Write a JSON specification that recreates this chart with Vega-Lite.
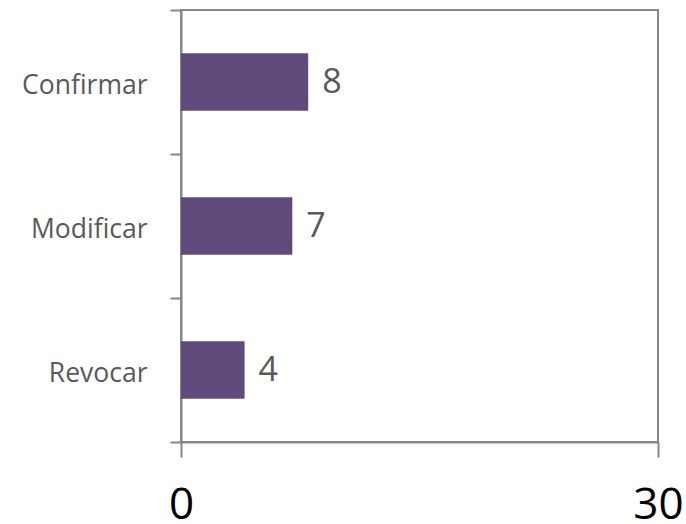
{
  "$schema": "https://vega.github.io/schema/vega-lite/v6.json",
  "width": 477,
  "height": 432,
  "autosize": "none",
  "padding": {"left": 181, "top": 10, "right": 28, "bottom": 82},
  "background": "white",
  "config": {
    "view": {"stroke": "#868686", "strokeWidth": 2},
    "font": "Open Sans"
  },
  "data": {
    "values": [
      {"decision": "Confirmar", "count": 8},
      {"decision": "Modificar", "count": 7},
      {"decision": "Revocar", "count": 4}
    ]
  },
  "encoding": {
    "y": {
      "field": "decision",
      "type": "nominal",
      "sort": null,
      "scale": {"paddingInner": 0, "paddingOuter": 0},
      "axis": {
        "title": null,
        "domainColor": "#868686",
        "domainWidth": 2,
        "tickColor": "#868686",
        "tickWidth": 2,
        "tickSize": 11,
        "tickBand": "extent",
        "labelFont": "Open Sans",
        "labelFontSize": 26.5,
        "labelColor": "#595959",
        "labelPadding": 23,
        "labelOffset": 3,
        "labelBaseline": "middle"
      }
    },
    "x": {
      "field": "count",
      "type": "quantitative",
      "scale": {"domain": [0, 30], "nice": false},
      "axis": {
        "title": null,
        "values": [0, 30],
        "grid": false,
        "domainColor": "#868686",
        "domainWidth": 2,
        "tickColor": "#868686",
        "tickWidth": 2,
        "tickSize": 15,
        "labelFont": "Open Sans",
        "labelFontSize": 44,
        "labelColor": "#000000",
        "labelPadding": 26,
        "labelFlush": false,
        "labelAlign": "center"
      }
    }
  },
  "layer": [
    {"mark": {"type": "bar", "color": "#604A7B", "height": {"band": 0.4}}},
    {
      "mark": {
        "type": "text",
        "align": "left",
        "baseline": "alphabetic",
        "dx": 14,
        "dy": 11,
        "font": "Open Sans",
        "fontSize": 34,
        "color": "#595959"
      },
      "encoding": {"text": {"field": "count", "type": "quantitative"}}
    }
  ]
}
